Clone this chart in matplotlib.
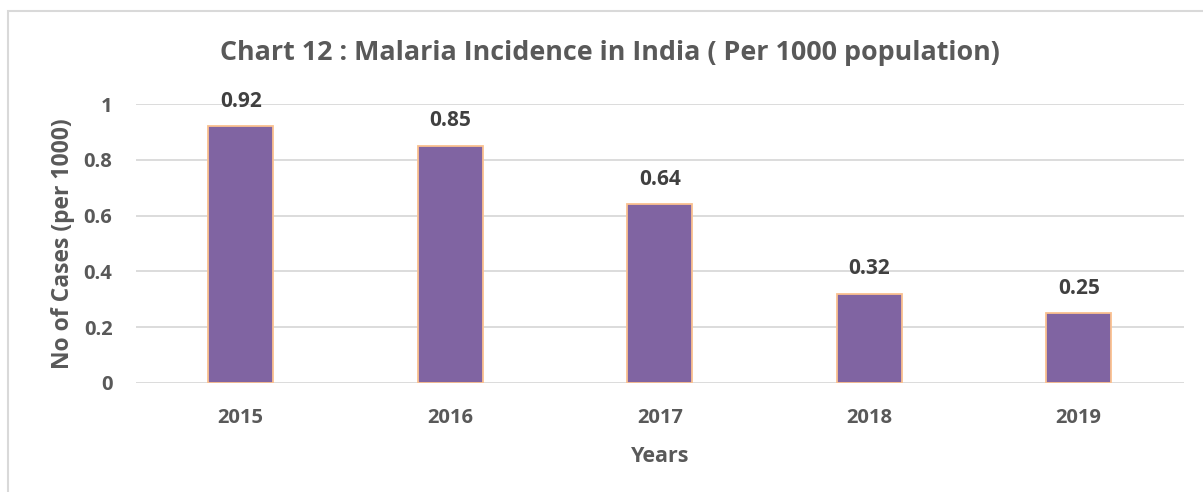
import matplotlib.pyplot as plt
from matplotlib.patches import Rectangle

years = ['2015', '2016', '2017', '2018', '2019']
incidence = [0.92, 0.85, 0.64, 0.32, 0.25]
yticks = [0, 0.2, 0.4, 0.6, 0.8, 1]
ytick_labels = ['0', '0.2', '0.4', '0.6', '0.8', '1']

plt.rcParams['font.family'] = ['Open Sans', 'DejaVu Sans']
plt.rcParams['font.weight'] = 'bold'

W, H = 1203, 492
fig = plt.figure(figsize=(W / 100, H / 100), dpi=100)
ax = fig.add_axes([136 / W, 1 - 383 / H, 1047.5 / W, 279 / H])

# chart frame, open to the right and bottom
fig.patches.append(Rectangle((8 / W, -0.1), 1.2, 1 - 11 / H + 0.1,
                             transform=fig.transFigure, fill=False,
                             edgecolor='#d9d9d9', linewidth=1.5))

x = range(len(years))
bars = ax.bar(x, incidence, width=0.31, color='#8064a2',
              edgecolor='#fac090', linewidth=1.3, zorder=3)
for xi, v in zip(x, incidence):
    ax.annotate(f'{v:.2f}', (xi, v), xytext=(0, 18), textcoords='offset points',
                ha='center', va='center', fontsize=15, fontweight='bold',
                color='#404040')

ax.set_xlim(-0.5, len(years) - 0.5)
ax.set_ylim(0, 1)
ax.set_yticks(yticks, ytick_labels)
ax.set_xticks(list(x), years)
ax.grid(axis='y', color='#d9d9d9', linewidth=1.3, zorder=0)
ax.tick_params(length=0, labelsize=14.5, labelcolor='#595959')
ax.tick_params(axis='x', pad=18)
ax.tick_params(axis='y', pad=17)
for s in ax.spines.values():
    s.set_visible(False)

ax.set_xlabel('Years', fontsize=15.5, fontweight='bold', color='#595959', labelpad=13)
ax.set_ylabel('No of Cases (per 1000)', fontsize=16.5, fontweight='bold',
              color='#595959', labelpad=6)
fig.text(610 / W, 1 - 53 / H, 'Chart 12 : Malaria Incidence in India ( Per 1000 population)',
         ha='center', va='center', fontsize=19.4, fontweight='bold', color='#595959')

fig.savefig('out.png', dpi=100)
